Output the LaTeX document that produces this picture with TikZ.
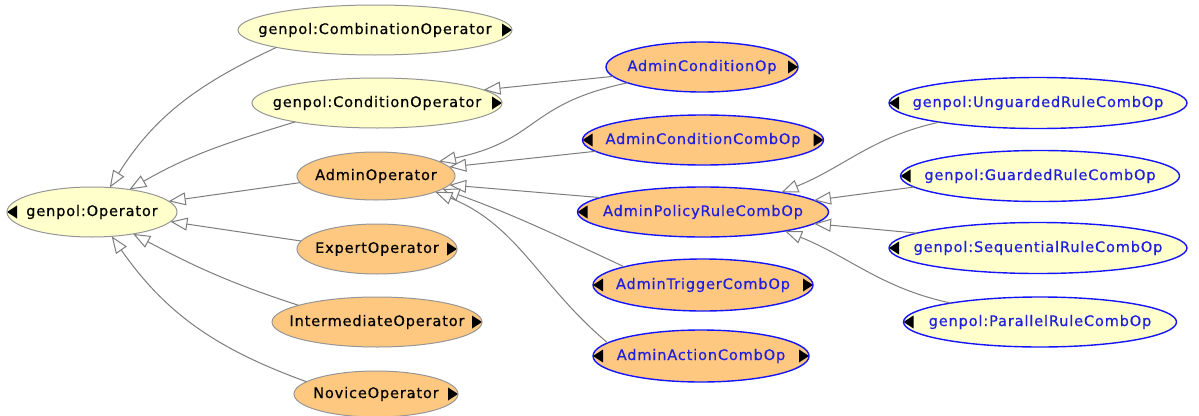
\documentclass[tikz,border=0pt]{standalone}
\usepackage{fontspec}
\setmainfont{DejaVu Sans}
\usetikzlibrary{shapes.geometric,arrows.meta}
\definecolor{ylw}{RGB}{255,255,204}
\definecolor{org}{RGB}{255,200,128}
\definecolor{bluetxt}{RGB}{30,30,225}
\definecolor{bluedge}{RGB}{20,20,255}
\definecolor{edgegray}{RGB}{125,125,125}
\definecolor{bordergray}{RGB}{150,150,150}
\begin{document}
\begin{tikzpicture}[x=1pt,y=-1pt,
  cls/.style={ellipse, draw=bordergray, line width=1pt, inner sep=0pt, outer sep=0pt},
  yel/.style={cls, fill=ylw},
  orn/.style={cls, fill=org},
  blu/.style={draw=bluedge, line width=1.4pt},
  sz/.style 2 args={minimum width=#1pt, minimum height=#2pt},
  markR/.style={path picture={\fill[black] (path picture bounding box.east) ++(-10pt,6.5pt) -- ++(0pt,-13pt) -- ++(10pt,6.5pt) -- cycle;}},
  markL/.style={path picture={\fill[black] (path picture bounding box.west) ++(10pt,6.5pt) -- ++(0pt,-13pt) -- ++(-10pt,6.5pt) -- cycle;}},
  markLR/.style={path picture={\fill[black] (path picture bounding box.east) ++(-10pt,6.5pt) -- ++(0pt,-13pt) -- ++(10pt,6.5pt) -- cycle;
     \fill[black] (path picture bounding box.west) ++(10pt,6.5pt) -- ++(0pt,-13pt) -- ++(-10pt,6.5pt) -- cycle;}},
  lblK/.style={font=\fontsize{14.5}{16}\selectfont\addfontfeature{LetterSpace=6,FakeBold=0.5}, text=black},
  lblB/.style={font=\fontsize{14.5}{16}\selectfont\addfontfeature{LetterSpace=6,FakeBold=0.5}, text=bluetxt},
  isa/.style={draw=edgegray, line width=1pt, -{Triangle[length=17pt,width=13pt,fill=white,line width=1pt]}}
]
\useasboundingbox[fill=white] (0,0) rectangle (1199,415);

% left / middle column
\node[yel, markR, sz={274}{50}, label={[lblK]center:{genpol:CombinationOperator}}] (comb) at (375,30) {};
\node[yel, markR, sz={250}{50}, label={[lblK]center:{genpol:ConditionOperator}}] (cond) at (377,103) {};
\node[orn, sz={158}{48}, label={[lblK]center:{AdminOperator}}] (adminop) at (376,176) {};
\node[yel, markL, sz={170}{50}, label={[lblK]center:{genpol:Operator}}] (op) at (92,212) {};
\node[orn, markR, sz={160}{50}, label={[lblK]center:{ExpertOperator}}] (expert) at (377,249) {};
\node[orn, markR, sz={210}{50}, label={[lblK]center:{IntermediateOperator}}] (inter) at (377,322) {};
\node[orn, markR, sz={164}{46}, label={[lblK]center:{NoviceOperator}}] (novice) at (376,394) {};

% admin column
\node[orn, blu, markR, sz={192}{50}, label={[lblB]center:{AdminConditionOp}}] (acondop) at (702,67) {};
\node[orn, blu, markLR, sz={241}{50}, label={[lblB]center:{AdminConditionCombOp}}] (acondcomb) at (703,140) {};
\node[orn, blu, markL, sz={251}{50}, label={[lblB]center:{AdminPolicyRuleCombOp}}] (apolicy) at (703,212) {};
\node[orn, blu, markLR, sz={220}{52}, label={[lblB]center:{AdminTriggerCombOp}}] (atrigger) at (703,285) {};
\node[orn, blu, markLR, sz={216}{52}, label={[lblB]center:{AdminActionCombOp}}] (aaction) at (701,356) {};

% right column
\node[yel, blu, markL, sz={298}{51}, label={[lblB]center:{genpol:UnguardedRuleCombOp}}] (unguarded) at (1038,103) {};
\node[yel, blu, markL, sz={279}{51}, label={[lblB]center:{genpol:GuardedRuleCombOp}}] (guarded) at (1040,176) {};
\node[yel, blu, markL, sz={298}{51}, label={[lblB]center:{genpol:SequentialRuleCombOp}}] (sequential) at (1038,248) {};
\node[yel, blu, markL, sz={273}{50}, label={[lblB]center:{genpol:ParallelRuleCombOp}}] (parallel) at (1040,322) {};

% connectors
\draw[isa] (comb.190) to[out=205,in=58] (op.54);
\draw[isa] (cond.193) to[out=197,in=30] (op.31);
\draw[isa] (adminop.185) -- (op.8);
\draw[isa] (expert.174) -- (op.-7);
\draw[isa] (inter.168) to[out=162,in=-28] (op.-28);
\draw[isa] (novice.170) to[out=160,in=-55] (op.-51);

\draw[isa] (acondop.186) -- (cond.7);
\draw[isa] (acondop.192) to[out=192,in=12,looseness=1.3] (adminop.13);
\draw[isa] (acondcomb.186) -- (adminop.7);
\draw[isa] (apolicy.172) -- (adminop.-7);
\draw[isa] (atrigger.167) to[out=155,in=-20] (adminop.-11);
\draw[isa] (aaction.172) to[out=140,in=-22] (adminop.-15);

\draw[isa] (unguarded.191) to[out=192,in=22] (apolicy.14);
\draw[isa] (guarded.185) -- (apolicy.6);
\draw[isa] (sequential.173) -- (apolicy.-6);
\draw[isa] (parallel.168) to[out=168,in=-22] (apolicy.-13);
\end{tikzpicture}
\end{document}
